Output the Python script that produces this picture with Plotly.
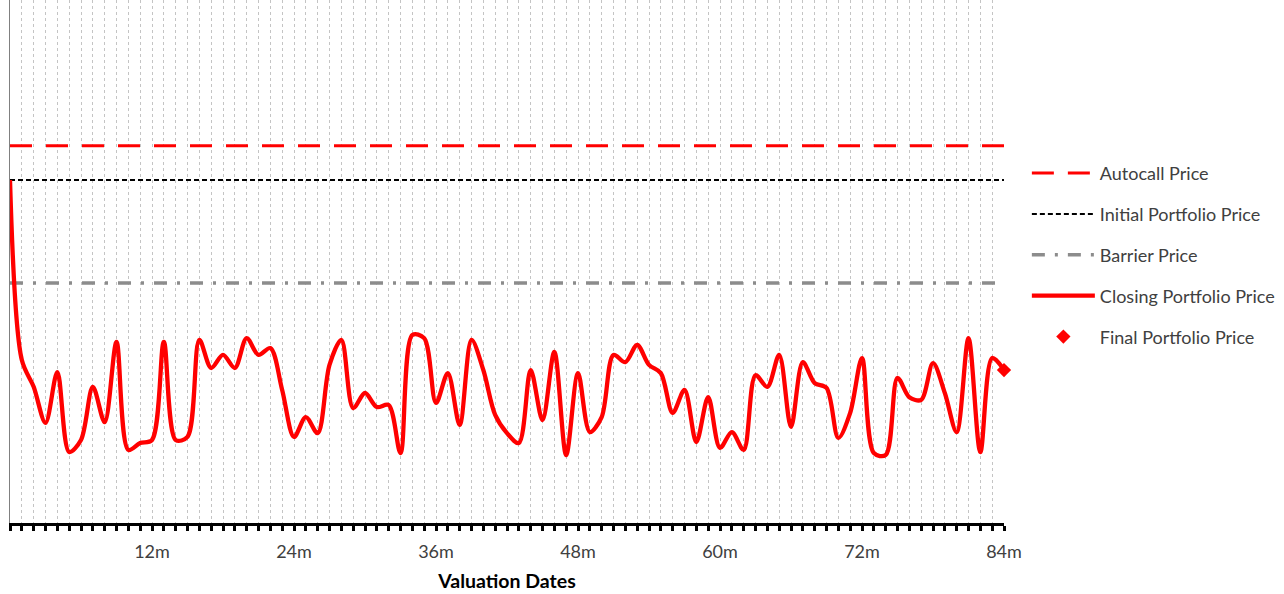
import plotly.graph_objects as go

months = list(range(0, 85))
closing_price = [100, 47.5, 39.7, 29.2, 44.0, 20.7, 24.2, 39.7, 29.4, 52.8,
                 21.3, 23.3, 24.2, 52.8, 24.2, 25.1, 53.4, 45.2, 49.0, 45.2,
                 53.9, 49.0, 51.0, 38.8, 25.1, 30.9, 26.2, 46.1, 53.4, 33.5,
                 37.9, 33.8, 34.4, 20.4, 54.8, 53.9, 35.0, 43.7, 28.6, 53.4,
                 44.6, 31.5, 26.2, 23.3, 44.6, 30.0, 49.9, 19.8, 43.7, 26.5,
                 30.9, 49.0, 46.9, 51.9, 46.1, 43.7, 32.1, 38.8, 23.6, 36.7,
                 21.9, 26.5, 21.3, 43.1, 39.7, 49.0, 28.0, 46.9, 40.8, 39.4,
                 24.8, 32.1, 48.1, 20.4, 19.8, 42.3, 36.7, 35.9, 46.6, 37.9,
                 26.5, 53.9, 20.7, 48.1, 44.6]
autocall_level = 110
initial_level = 100
barrier_level = 70
tick_months = list(range(0, 85))
tick_labels = [f"{m}m" if (m % 12 == 0 and m > 0) else "" for m in tick_months]

x_start, x_end = months[0], months[-1]
FONT = "Lato, Open Sans, sans-serif"

fig = go.Figure()
fig.add_trace(go.Scatter(
    x=[x_start, x_end], y=[autocall_level, autocall_level], mode="lines",
    name="Autocall Price", legendgroup="a",
    line=dict(color="#ff0000", width=3, dash="22px,14px")))
fig.add_trace(go.Scatter(
    x=[x_start, x_end], y=[initial_level, initial_level], mode="lines",
    name="Initial Portfolio Price", legendgroup="b",
    line=dict(color="#000000", width=2, dash="5px,3px")))
fig.add_trace(go.Scatter(
    x=[x_start, x_end], y=[barrier_level, barrier_level], mode="lines",
    name="Barrier Price", legendgroup="c",
    line=dict(color="#8c8c8c", width=3.5, dash="13px,10px,3px,10px")))
fig.add_trace(go.Scatter(
    x=months, y=closing_price, mode="lines",
    name="Closing Portfolio Price", legendgroup="d",
    line=dict(color="#ff0000", width=4.3, shape="spline", smoothing=0.9)))
fig.add_trace(go.Scatter(
    x=[months[-1]], y=[closing_price[-1]], mode="markers",
    name="Final Portfolio Price", legendgroup="e", cliponaxis=False,
    marker=dict(color="#ff0000", symbol="diamond", size=11)))

fig.update_layout(
    width=1284, height=594,
    margin=dict(l=10, r=280, t=0, b=71),
    paper_bgcolor="white", plot_bgcolor="white",
    font=dict(family=FONT, color="#404040", size=18),
    legend=dict(x=1.023, y=0.704, xanchor="left", yanchor="top",
                tracegroupgap=14.5, font=dict(family=FONT, size=18, color="#404040"),
                itemwidth=63, bgcolor="rgba(0,0,0,0)"),
    xaxis=dict(range=[x_start, x_end], tickmode="array",
               tickvals=tick_months, ticktext=tick_labels,
               ticks="outside", ticklen=5, tickwidth=3, tickcolor="black",
               showline=True, linecolor="black", linewidth=3,
               showgrid=True, gridcolor="#c4c4c4", griddash="3px,3px", gridwidth=1,
               zeroline=False, ticklabelstandoff=5,
               tickfont=dict(family=FONT, size=18, color="#404040"),
               title=dict(text="<b>Valuation Dates</b>", standoff=14,
                          font=dict(family=FONT, size=19.5, color="#000000"))),
    yaxis=dict(range=[0, 152.5], showticklabels=False, ticks="",
               showgrid=False, zeroline=False, showline=True,
               linecolor="#808080", linewidth=1),
    hovermode=False,
)

fig.write_html("out.html", config={"displayModeBar": False},
               post_script="document.body.style.margin='0';")
